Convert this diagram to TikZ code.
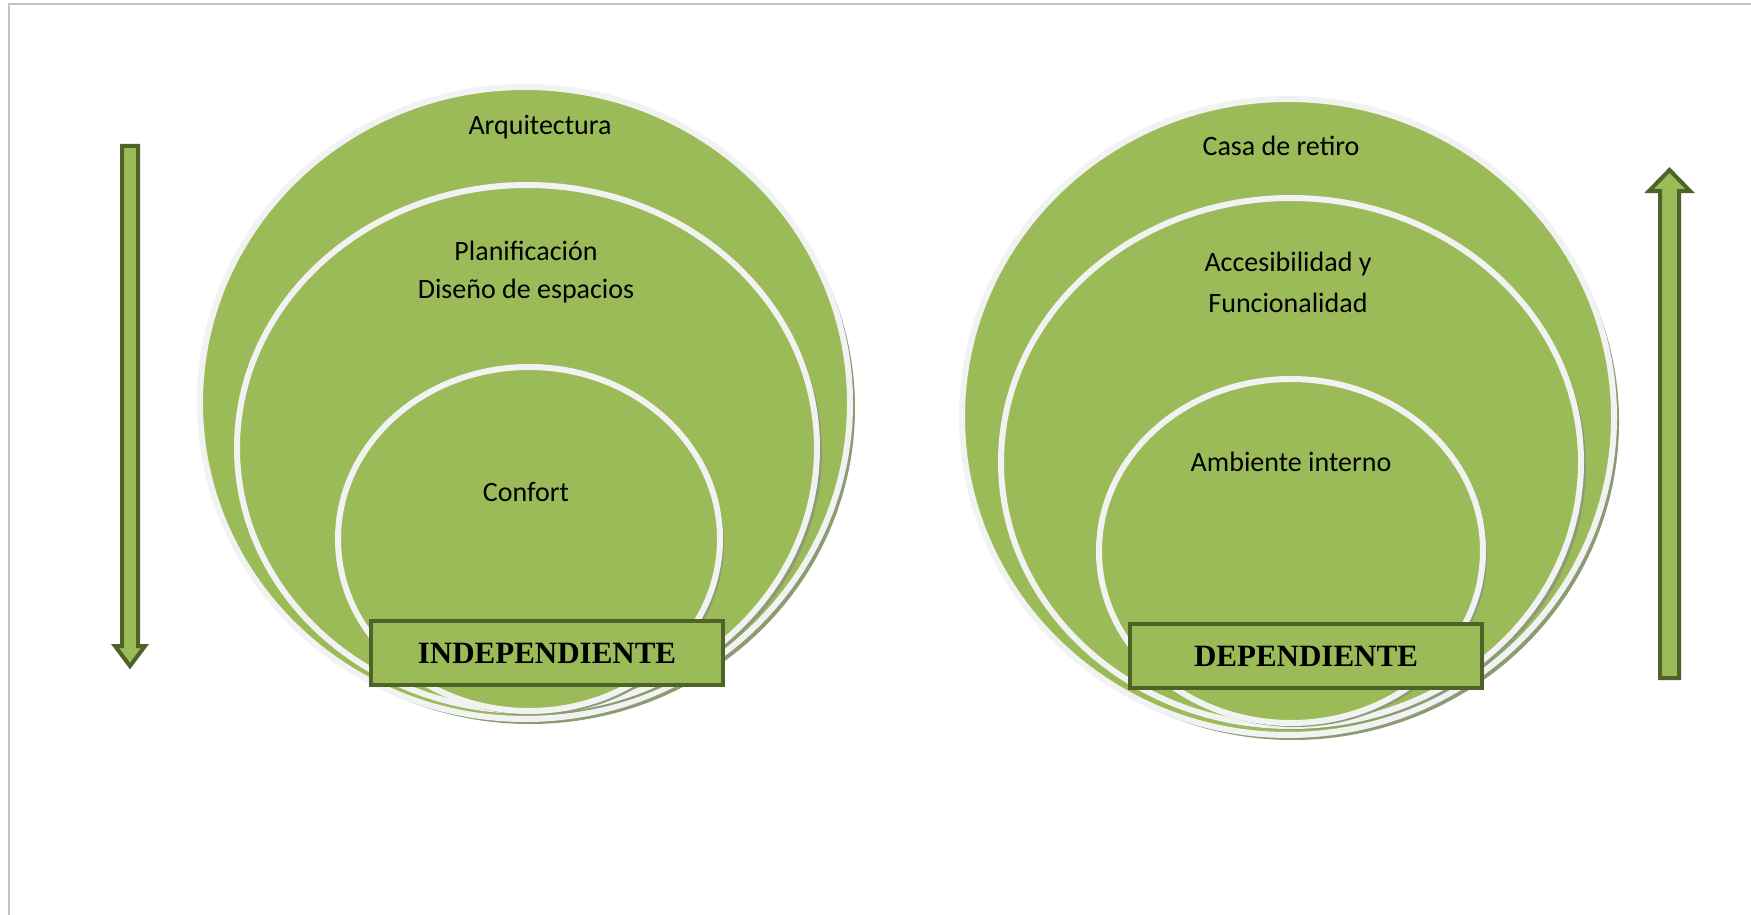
\documentclass[tikz,border=0pt]{standalone}
\usepackage{fontspec}
\setmainfont{Carlito}
\newfontfamily\tnr{Liberation Serif}
\usetikzlibrary{shapes.geometric}
\definecolor{leaf}{HTML}{9BBB59}
\definecolor{moss}{HTML}{4F6228}
\definecolor{shade}{RGB}{140,155,115}
\definecolor{rim}{RGB}{242,242,242}
\definecolor{framegray}{RGB}{195,195,195}
\begin{document}
\begin{tikzpicture}[x=0.5pt,y=-0.5pt,
  ring/.style={ellipse, fill=leaf, draw=rim, line width=3pt, inner sep=0pt},
  ringshadow/.style={ellipse, fill=shade, inner sep=0pt},
  lbl/.style={font=\fontsize{14}{16}\selectfont, inner sep=0pt},
  tag/.style={rectangle, fill=leaf, draw=moss, line width=2.2pt, minimum width=176pt, minimum height=32pt, inner sep=0pt, font=\tnr\bfseries\fontsize{15.5}{17}\selectfont},
  pointer/.style={fill=leaf, draw=moss, line width=2pt, line join=miter}]
\useasboundingbox (0,0) rectangle (1751,915);
\fill[white] (0,0) rectangle (1751,915);
\draw[framegray, line width=1pt] (9,915) -- (9,4.5) -- (1751,4.5);

% left group
\node[ringshadow, minimum width=325pt, minimum height=316pt] (L1s) at (530,408) {};
\node[ring, minimum width=325pt, minimum height=316pt] (L1) at (525,403) {};
\node[ringshadow, minimum width=290pt, minimum height=263pt] (L2s) at (532,452) {};
\node[ring, minimum width=290pt, minimum height=263pt] (L2) at (527,448) {};
\node[ringshadow, minimum width=191pt, minimum height=172pt] (L3s) at (533,543) {};
\node[ring, minimum width=191pt, minimum height=172pt] (L3) at (529,539) {};
\node[tag] (Ltag) at (547,653) {INDEPENDIENTE};
\node[lbl] (t1) at (540,127) {Arquitectura};
\node[lbl] (t2) at (526,251) {Planificación};
\node[lbl] (t3) at (526,291) {Diseño de espacios};
\node[lbl] (t4) at (526,492) {Confort};

% right group
\node[ringshadow, minimum width=326pt, minimum height=318pt] (R1s) at (1293,422) {};
\node[ring, minimum width=326pt, minimum height=318pt] (R1) at (1288,417) {};
\node[ringshadow, minimum width=290pt, minimum height=264pt] (R2s) at (1296,466) {};
\node[ring, minimum width=290pt, minimum height=264pt] (R2) at (1291,462) {};
\node[ringshadow, minimum width=192pt, minimum height=172pt] (R3s) at (1295,555) {};
\node[ring, minimum width=192pt, minimum height=172pt] (R3) at (1291,551) {};
\node[tag] (Rtag) at (1306,656) {DEPENDIENTE};
\node[lbl] (u1) at (1281,146) {Casa de retiro};
\node[lbl] (u2) at (1288,264) {Accesibilidad y};
\node[lbl] (u3) at (1288,303) {Funcionalidad};
\node[lbl] (u4) at (1291,462) {Ambiente interno};

% arrows
\draw[pointer] (122,146) -- (138,146) -- (138,646) -- (145,646) -- (130,666) -- (115,646) -- (122,646) -- cycle;
\draw[pointer] (1660,678) -- (1679,678) -- (1679,191) -- (1690,191) -- (1669.5,170) -- (1649,191) -- (1660,191) -- cycle;
\end{tikzpicture}
\end{document}
